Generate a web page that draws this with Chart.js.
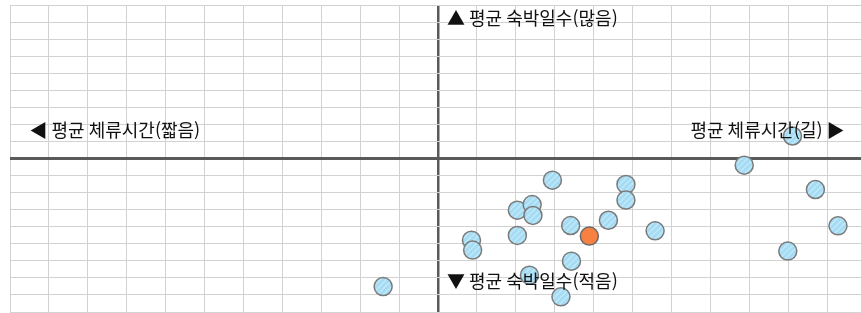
<!DOCTYPE html>
<html lang="ko">
<head>
<meta charset="utf-8">
<script src="https://cdn.jsdelivr.net/npm/chart.js@4.4.1/dist/chart.umd.min.js"></script>
<style>
  html, body { margin: 0; padding: 0; background: #fff; overflow: hidden; }
  #wrap { position: relative; width: 870px; height: 313px; }
</style>
</head>
<body>
<div id="wrap"><canvas id="quadChart"></canvas></div>
<script>
// 평균 체류시간(x) / 평균 숙박일수(y) - 기준점(0,0) 대비 편차
const stayX = [-1.41, 0.86, 0.89, 2.04, 2.42, 2.44, 2.04, 2.35, 2.94, 3.16, 3.41,
               3.43, 4.38, 4.83, 4.83, 5.58, 7.87, 9.11, 9.70, 10.28, 8.99];
const nightsY = [-7.51, -4.79, -5.37, -3.03, -2.70, -3.34, -4.51, -6.84, -1.27, -8.11, -3.93,
                 -6.02, -3.62, -1.52, -2.44, -4.24, -0.39, 1.32, -1.82, -3.95, -5.43];
const focusX = [3.89];
const focusY = [-4.55];

const xRange = [-11, 11];
const yRange = [-9, 9];

const labelTop = '▲ 평균 숙박일수(많음)';
const labelBottom = '▼ 평균 숙박일수(적음)';
const labelLeft = '◀ 평균 체류시간(짧음)';
const labelRight = '평균 체류시간(길) ▶';

document.addEventListener("DOMContentLoaded", () => {
    // 빗금 패턴 (하늘색)
    const pc = document.createElement("canvas");
    pc.width = 6; pc.height = 6;
    const p = pc.getContext("2d");
    p.fillStyle = "#a5dcf3";
    p.fillRect(0, 0, 6, 6);
    p.strokeStyle = "#c2e9f9";
    p.lineWidth = 1.3;
    p.beginPath();
    p.moveTo(-1, 7); p.lineTo(7, -1);
    p.moveTo(-1, 1); p.lineTo(1, -1);
    p.moveTo(5, 7); p.lineTo(7, 5);
    p.stroke();
    const hatch = p.createPattern(pc, "repeat");

    const toPoints = (xs, ys) => xs.map((x, i) => ({ x: x, y: ys[i] }));

    const quadLabels = {
        id: 'quadLabels',
        afterDatasetsDraw(chart) {
            const c = chart.ctx;
            const xs = chart.scales.x, ys = chart.scales.y;
            const cx = xs.getPixelForValue(0);
            c.save();
            c.font = '18px "Noto Sans CJK KR", sans-serif';
            c.fillStyle = '#111';
            c.textBaseline = 'middle';
            c.textAlign = 'left';
            c.fillText(labelTop, cx + 9, ys.getPixelForValue(8.2));
            c.fillText(labelBottom, cx + 9, ys.getPixelForValue(-7.18));
            c.fillText(labelLeft, xs.getPixelForValue(-10.5), ys.getPixelForValue(1.67));
            c.textAlign = 'right';
            c.fillText(labelRight, xs.getPixelForValue(10.45), ys.getPixelForValue(1.67));
            c.restore();
        }
    };

    const axisColor = (ctx) => ctx.tick && ctx.tick.value === 0 ? '#5a5a5a' : '#d2d2d2';

    new Chart(document.getElementById("quadChart"), {
        type: 'scatter',
        data: {
            datasets: [{
                data: toPoints(focusX, focusY),
                backgroundColor: '#f88141',
                borderColor: '#6a6a6a',
                borderWidth: 1.5,
                pointRadius: 9,
                order: 0
            }, {
                data: toPoints(stayX, nightsY),
                backgroundColor: hatch,
                borderColor: '#7a7a7a',
                borderWidth: 1.5,
                pointRadius: 9,
                order: 1
            }]
        },
        options: {
            responsive: true,
            maintainAspectRatio: false,
            animation: false,
            layout: { autoPadding: false, padding: { left: 10, top: 5, right: 4, bottom: 1 } },
            plugins: {
                legend: { display: false },
                tooltip: { enabled: false }
            },
            scales: {
                x: {
                    min: xRange[0],
                    max: xRange[1],
                    ticks: { display: false, stepSize: 1 },
                    border: { display: false },
                    grid: {
                        drawTicks: false,
                        color: axisColor,
                        lineWidth: ctx => ctx.tick && ctx.tick.value === 0 ? 2.5 : 1
                    }
                },
                y: {
                    min: yRange[0],
                    max: yRange[1],
                    ticks: { display: false, stepSize: 1 },
                    border: { display: false },
                    grid: {
                        drawTicks: false,
                        color: axisColor,
                        lineWidth: ctx => ctx.tick && ctx.tick.value === 0 ? 3 : 1
                    }
                }
            }
        },
        plugins: [quadLabels]
    });
});
</script>
</body>
</html>
